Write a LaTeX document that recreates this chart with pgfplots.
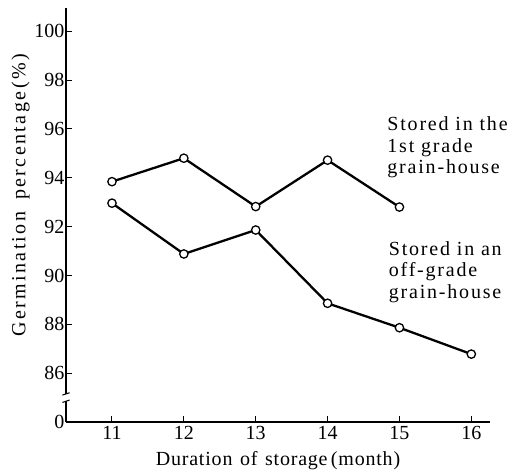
\documentclass[border=0pt]{standalone}
\usepackage{fontspec}
\setmainfont{Liberation Serif}
\newfontfamily\spacedA{Liberation Serif}[LetterSpace=9]
\newfontfamily\spacedX{Liberation Serif}[LetterSpace=4, WordSpace=1.3]
\newfontfamily\spacedY{Liberation Serif}[LetterSpace=12, WordSpace=1.6]
\usepackage{pgfplots}
\pgfplotsset{compat=1.18}
\newcommand{\fs}{\fontsize{20bp}{21.5bp}\selectfont}
\begin{document}
\begin{tikzpicture}
\begin{axis}[
  name=ax,
  scale only axis,
  width=424bp, height=414bp,
  xmin=10.36, xmax=16.26,
  ymin=84, ymax=100.95,
  axis lines=left,
  axis line style={-, line width=1.1pt},
  xtick={11,12,13,14,15,16},
  ytick={84,86,88,90,92,94,96,98,100},
  yticklabels={0,86,88,90,92,94,96,98,100},
  tick align=inside,
  major tick length=6bp,
  tick style={line width=1pt, black},
  /pgf/number format/assume math mode=true,
  ticklabel style={font=\fs},
  yticklabel style={xshift=2bp},
  xticklabel style={yshift=-1bp},
  xlabel={\spacedX Duration of storage\,(month)},
  ylabel={\spacedY Germination percentage\,(\%)},
  xlabel style={font=\fs, yshift=-5bp},
  ylabel style={font=\fs, at={(ticklabel cs:0.548)}, yshift=-2bp},
  clip=false,
]
\addplot[black, line width=2.3pt, mark=*, mark size=4.2pt, mark options={fill=white, line width=1.3pt}]
coordinates {(11,93.84) (12,94.8) (13,92.82) (14,94.72) (15,92.8)};
\addplot[black, line width=2.3pt, mark=*, mark size=4.2pt, mark options={fill=white, line width=1.3pt}]
coordinates {(11,92.96) (12,90.88) (13,91.86) (14,88.86) (15,87.86) (16,86.78)};
\node[anchor=north west, align=left, font=\fs\spacedA, inner sep=0pt] at (axis cs:14.83,96.5) {Stored in the\\1st grade\\grain-house};
\node[anchor=north west, align=left, font=\fs\spacedA, inner sep=0pt] at (axis cs:14.85,91.4) {Stored in an\\off-grade\\grain-house};
% axis break
\fill[white] (axis cs:10.33,84.85) rectangle (axis cs:10.39,85.15);
\draw[line width=1pt] (axis cs:10.31,84.8) -- (axis cs:10.41,84.9);
\draw[line width=1pt] (axis cs:10.31,85.1) -- (axis cs:10.41,85.2);
\end{axis}
\pgfresetboundingbox
\path[use as bounding box] (ax.south west) ++(-66bp,-50bp) rectangle ([shift={(33bp,8bp)}]ax.north east);
\end{tikzpicture}
\end{document}
